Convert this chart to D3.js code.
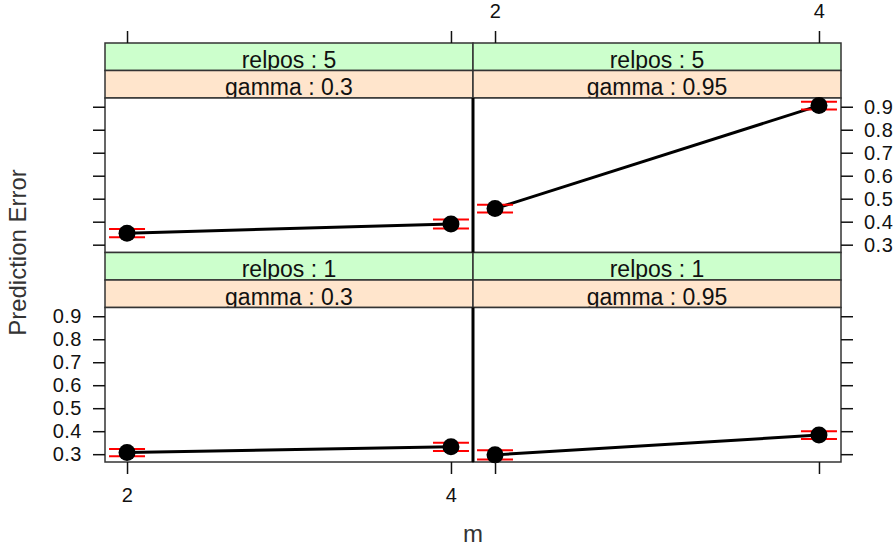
<!DOCTYPE html>
<html>
<head>
<meta charset="utf-8">
<script src="https://cdn.jsdelivr.net/npm/d3@7"></script>
<style>
  html, body { margin: 0; padding: 0; background: #fff; }
  svg { display: block; font-family: "Liberation Sans", Arial, sans-serif; }
</style>
</head>
<body>
<svg id="chart" width="895" height="546"></svg>
<script>
// Conditioning levels and the x variable
const relposLevels = [5, 1];          // rows, top to bottom
const gammaLevels = [0.3, 0.95];      // columns, left to right
const mValues = [2, 4];
const xTicks = [2, 4];
const yTicks = [0.3, 0.4, 0.5, 0.6, 0.7, 0.8, 0.9];

// Mean prediction error per panel (m = 2, m = 4)
const errR5G03 = [0.350, 0.390];
const errR5G095 = [0.457, 0.905];
const errR1G03 = [0.307, 0.332];
const errR1G095 = [0.297, 0.383];

// Half-width of the interval around each mean
const seR5G03 = [0.018, 0.020];
const seR5G095 = [0.017, 0.017];
const seR1G03 = [0.016, 0.018];
const seR1G095 = [0.020, 0.017];

const panelData = [
  { relpos: 5, gamma: 0.3,  mean: errR5G03,  se: seR5G03 },
  { relpos: 5, gamma: 0.95, mean: errR5G095, se: seR5G095 },
  { relpos: 1, gamma: 0.3,  mean: errR1G03,  se: seR1G03 },
  { relpos: 1, gamma: 0.95, mean: errR1G095, se: seR1G095 }
];

// Layout
const left0 = 105, panelW = 368;
const top0 = 43, stripH = 27.5, panelH = 154.5;
const rowH = 2 * stripH + panelH;
const stripColors = ["#CCFFCC", "#FFE5CC"];

const x = d3.scaleLinear().domain([2 - 0.136, 4 + 0.136]).range([0, panelW]);
const y = d3.scaleLinear().domain([0.266, 0.938]).range([panelH, 0]);

const svg = d3.select("#chart");

function panelOrigin(row, col) {
  return { x: left0 + col * panelW, y: top0 + row * rowH };
}

panelData.forEach(p => {
  const row = relposLevels.indexOf(p.relpos);
  const col = gammaLevels.indexOf(p.gamma);
  const o = panelOrigin(row, col);
  const g = svg.append("g").attr("transform", `translate(${o.x},${o.y})`);

  // strips: outer (relpos) on top, inner (gamma) below
  const stripTexts = [`relpos : ${p.relpos}`, `gamma : ${p.gamma}`];
  stripTexts.forEach((t, i) => {
    const clipId = `clip-${row}-${col}-${i}`;
    g.append("clipPath").attr("id", clipId)
      .append("rect").attr("x", 0).attr("y", i * stripH)
      .attr("width", panelW).attr("height", stripH);
    g.append("rect")
      .attr("x", 0).attr("y", i * stripH)
      .attr("width", panelW).attr("height", stripH)
      .attr("fill", stripColors[i]);
    g.append("text")
      .attr("clip-path", `url(#${clipId})`)
      .attr("x", panelW / 2).attr("y", (i + 1) * stripH - 3)
      .attr("text-anchor", "middle")
      .attr("font-size", 23).attr("fill", "#111")
      .text(t);
    g.append("rect")
      .attr("x", 0).attr("y", i * stripH)
      .attr("width", panelW).attr("height", stripH)
      .attr("fill", "none").attr("stroke", "#333").attr("stroke-width", 1.5);
  });

  const pg = g.append("g").attr("transform", `translate(0,${2 * stripH})`);
  pg.append("rect").attr("width", panelW).attr("height", panelH)
    .attr("fill", "#fff").attr("stroke", "#333").attr("stroke-width", 1.5);

  const pts = mValues.map((m, i) => ({ m, v: p.mean[i], se: p.se[i] }));

  // connecting line
  pg.append("path")
    .datum(pts)
    .attr("fill", "none").attr("stroke", "#000").attr("stroke-width", 3)
    .attr("d", d3.line().x(d => x(d.m)).y(d => y(d.v)));

  // interval limits
  pts.forEach(d => {
    [d.v - d.se, d.v + d.se].forEach(lim => {
      pg.append("line")
        .attr("x1", x(d.m) - 18).attr("x2", x(d.m) + 18)
        .attr("y1", y(lim)).attr("y2", y(lim))
        .attr("stroke", "#FF0000").attr("stroke-width", 2);
    });
  });

  pg.selectAll("circle.pt").data(pts).join("circle")
    .attr("class", "pt")
    .attr("cx", d => x(d.m)).attr("cy", d => y(d.v))
    .attr("r", 8.5).attr("fill", "#000");

  // axes: alternating sides as in a trellis layout
  const tick = 12;
  const styleAxis = (sel, showLabels) => {
    sel.select(".domain").remove();
    sel.selectAll(".tick line").attr("stroke", "#111").attr("stroke-width", 1.5);
    sel.selectAll(".tick text")
      .attr("font-size", 20).attr("fill", "#111")
      .attr("letter-spacing", 0.5)
      .attr("font-family", "Liberation Sans, Arial, sans-serif")
      .style("display", showLabels ? null : "none");
  };

  if (row === 0) {
    const ax = g.append("g").call(d3.axisTop(x).tickValues(xTicks)
      .tickFormat(d3.format("d")).tickSize(tick).tickPadding(13));
    styleAxis(ax, col === 1);
  } else {
    const ax = pg.append("g").attr("transform", `translate(0,${panelH})`)
      .call(d3.axisBottom(x).tickValues(xTicks)
        .tickFormat(d3.format("d")).tickSize(tick).tickPadding(14));
    styleAxis(ax, col === 0);
  }
  if (col === 0) {
    const ay = pg.append("g").call(d3.axisLeft(y).tickValues(yTicks)
      .tickFormat(d3.format(".1f")).tickSize(tick).tickPadding(11));
    styleAxis(ay, row === 1);
  } else {
    const ay = pg.append("g").attr("transform", `translate(${panelW},0)`)
      .call(d3.axisRight(y).tickValues(yTicks)
        .tickFormat(d3.format(".1f")).tickSize(tick).tickPadding(11));
    styleAxis(ay, row === 0);
  }
});

// heavy divider between the two columns of plotting regions
[0, 1].forEach(row => {
  const o = panelOrigin(row, 1);
  svg.append("line")
    .attr("x1", o.x).attr("x2", o.x)
    .attr("y1", o.y + 2 * stripH).attr("y2", o.y + 2 * stripH + panelH)
    .attr("stroke", "#000").attr("stroke-width", 3);
});

// axis titles
const plotBottom = top0 + 2 * rowH;
svg.append("text")
  .attr("x", left0 + panelW).attr("y", 542)
  .attr("text-anchor", "middle").attr("font-size", 24).attr("fill", "#333")
  .text("m");
svg.append("text")
  .attr("transform", `translate(26,${(top0 + plotBottom) / 2}) rotate(-90)`)
  .attr("text-anchor", "middle").attr("font-size", 24).attr("fill", "#333")
  .text("Prediction Error");
</script>
</body>
</html>
